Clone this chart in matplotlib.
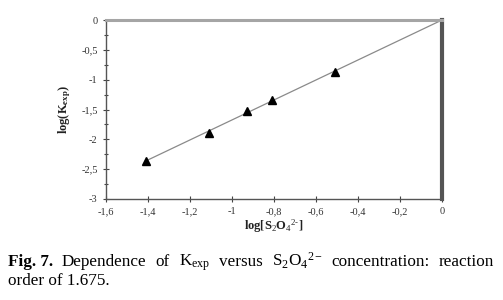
import matplotlib
matplotlib.use("Agg")
import matplotlib.pyplot as plt
import numpy as np
from matplotlib.ticker import MultipleLocator, FuncFormatter

# data
log_conc = [-1.41, -1.11, -0.93, -0.81, -0.51]
log_kexp = [-2.37, -1.89, -1.53, -1.34, -0.87]
fit_x = [-1.41, 0.0]
slope = 1.675

plt.rcParams['font.family'] = ['Liberation Serif', 'DejaVu Serif']
plt.rcParams['mathtext.fontset'] = 'custom'
plt.rcParams['mathtext.rm'] = 'Liberation Serif'
plt.rcParams['mathtext.it'] = 'Liberation Serif:italic'
plt.rcParams['mathtext.bf'] = 'Liberation Serif:bold'

W, H = 503, 300
fig = plt.figure(figsize=(W / 100, H / 100), dpi=100)
ax = fig.add_axes([106 / W, 1 - 199 / H, (442 - 106) / W, (199 - 20) / H])

fx = np.array(fit_x)
ax.plot(fx, slope * fx, color='#8a8a8a', lw=0.9, zorder=2)
ax.plot(log_conc, log_kexp, linestyle='none', marker='^', color='black',
        markersize=6, zorder=3)

ax.set_xlim(-1.6, 0)
ax.set_ylim(-3, 0)
ax.xaxis.set_major_locator(MultipleLocator(0.2))
ax.yaxis.set_major_locator(MultipleLocator(0.5))
ax.yaxis.set_minor_locator(MultipleLocator(0.25))

def fmt(v, pos):
    s = ('%.1f' % v).rstrip('0').rstrip('.')
    if s in ('-0', ''):
        s = '0'
    return s.replace('.', ',')

ax.xaxis.set_major_formatter(FuncFormatter(fmt))
ax.yaxis.set_major_formatter(FuncFormatter(fmt))
ax.tick_params(axis='both', which='both', direction='inout', length=4,
               width=0.8, color='#444444', labelsize=7.5, labelcolor='#333333', pad=4)
ax.tick_params(axis='y', which='minor', length=3)

for s in ('left', 'bottom'):
    ax.spines[s].set_color('#555555')
    ax.spines[s].set_linewidth(1.0)
ax.spines['top'].set_color('#a5a5a5')
ax.spines['top'].set_linewidth(2.2)
ax.spines['right'].set_color('#555555')
ax.spines['right'].set_linewidth(3.0)

ax.set_xlabel(r'log[S$_2$O$_4$$^{2\text{-}}$]', fontsize=9, fontweight='bold',
              labelpad=1, color='#222222')
ax.set_ylabel(r'log(K$_{\mathbf{exp}}$)', fontsize=9, fontweight='bold',
              labelpad=6, color='#222222')

# caption (justified first line)
words = [('Fig. 7.', 'bold'), ('Dependence', 'normal'), ('of', 'normal'),
         (r'K$_{\mathrm{exp}}$', 'normal'), ('versus', 'normal'),
         (r'S$_2$O$_4$$^{2-}$', 'normal'), ('concentration:', 'normal'),
         ('reaction', 'normal')]
fs = 12.3
x0, x1 = 8, 494
y1 = 1 - 266 / H
renderer = fig.canvas.get_renderer()
texts = []
for w, wt in words:
    t = fig.text(0, y1, w, fontsize=fs, fontweight=wt, ha='left',
                 va='baseline', color='black')
    texts.append(t)
widths = [t.get_window_extent(renderer).width for t in texts]
gap = ((x1 - x0) - sum(widths)) / (len(words) - 1)
xp = x0
for t, wd in zip(texts, widths):
    t.set_x(xp / W)
    xp += wd + gap

fig.text(x0 / W, 1 - 285 / H, 'order of 1.675.', fontsize=fs, ha='left',
         va='baseline', color='black')

fig.savefig('out.png', dpi=100)
